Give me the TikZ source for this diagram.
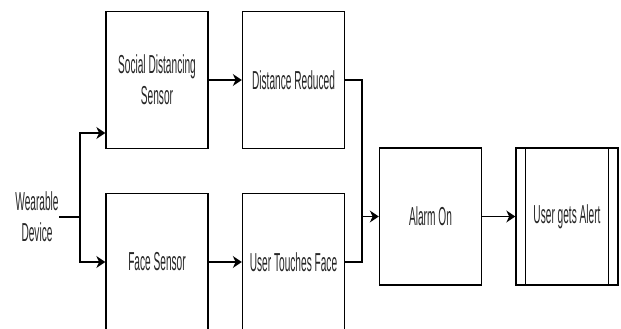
\documentclass[tikz,border=0pt]{standalone}
\usepackage{fontspec}
\setmainfont{Liberation Sans}
\newfontfamily\boxfont[FakeStretch=0.39]{Liberation Sans}
\usetikzlibrary{arrows.meta}
\tikzset{blk/.style={rectangle,draw,line width=1.4pt,minimum width=102pt,minimum height=137pt,inner sep=0pt,align=center,text=black!85,font=\boxfont\fontsize{26}{31}\selectfont},
lbl/.style={inner sep=0pt,align=center,text=black!85,font=\boxfont\fontsize{26}{31}\selectfont}}

\begin{document}
\begin{tikzpicture}[x=1pt,y=-1pt,>={Stealth[length=9pt,width=12pt]},line width=1.4pt]
        \useasboundingbox (0,0) rectangle (621,329);
        \clip (0,0) rectangle (621,329);

        \node[lbl] (wear) at (37,217) {Wearable\\Device};
        \node[blk] (social) at (157,80) {Social Distancing\\Sensor};
        \node[blk] (dist) at (293.5,80) {Distance Reduced};
        \node[blk] (face) at (157,262) {Face Sensor};
        \node[blk] (touch) at (293.5,262) {User Touches Face};
        \node[blk] (alarm) at (430.5,216.5) {Alarm On};
        \node[blk] (alert) at (567,216.5) {User gets Alert};
        \coordinate (split) at (80,217);
        \coordinate (join) at (362,216.5);

        \draw (split) -- (wear.east);
        \draw [->] (split) |- ([yshift=-53pt]social.west);
        \draw [->] (split) |- (face.west);
        \draw [->] (social) -- (dist);
        \draw [->] (face) -- (touch);
        \draw (dist.east) -| (join);
        \draw (touch.east) -| (join);
        \draw [->] (join) -- (alarm);
        \draw [->] (alarm) -- (alert);
        \draw [line width=1.2pt] ([xshift=10pt]alert.north west) -- ([xshift=10pt]alert.south west);
        \draw [line width=1.2pt] ([xshift=-10pt]alert.north east) -- ([xshift=-10pt]alert.south east);
    \end{tikzpicture}
\end{document}
